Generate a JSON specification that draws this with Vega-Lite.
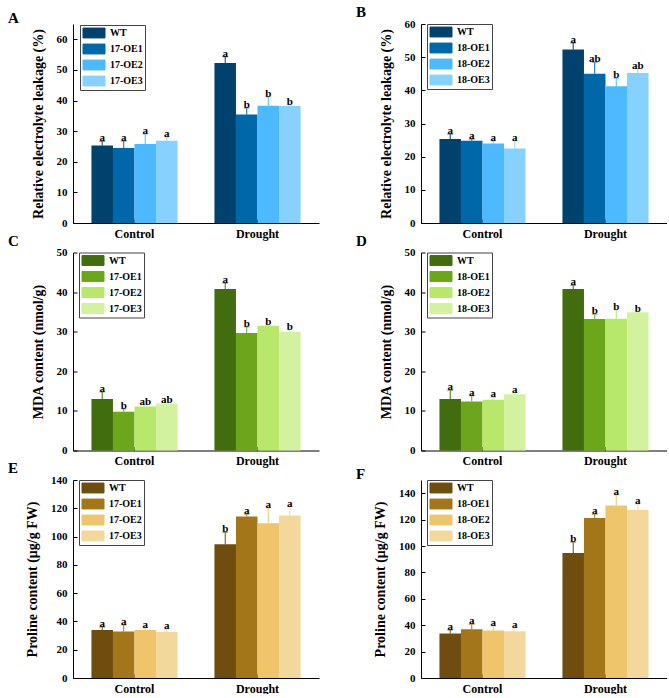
{
  "$schema": "https://vega.github.io/schema/vega-lite/v6.json",
  "padding": {"left": 8, "top": 5, "right": 0, "bottom": 0},
  "data": {
    "values": [
      {"panel": "A", "cond": "Control", "geno": "WT", "mean": 25.3, "upper": 26.7, "sig": "a"},
      {"panel": "A", "cond": "Control", "geno": "17-OE1", "mean": 24.5, "upper": 26.8, "sig": "a"},
      {"panel": "A", "cond": "Control", "geno": "17-OE2", "mean": 25.8, "upper": 29.0, "sig": "a"},
      {"panel": "A", "cond": "Control", "geno": "17-OE3", "mean": 26.9, "upper": 28.1, "sig": "a"},
      {"panel": "A", "cond": "Drought", "geno": "WT", "mean": 52.3, "upper": 54.3, "sig": "a"},
      {"panel": "A", "cond": "Drought", "geno": "17-OE1", "mean": 35.4, "upper": 37.6, "sig": "b"},
      {"panel": "A", "cond": "Drought", "geno": "17-OE2", "mean": 38.3, "upper": 41.2, "sig": "b"},
      {"panel": "A", "cond": "Drought", "geno": "17-OE3", "mean": 38.2, "upper": 38.6, "sig": "b"},

      {"panel": "B", "cond": "Control", "geno": "WT", "mean": 25.3, "upper": 26.8, "sig": "a"},
      {"panel": "B", "cond": "Control", "geno": "18-OE1", "mean": 24.8, "upper": 25.3, "sig": "a"},
      {"panel": "B", "cond": "Control", "geno": "18-OE2", "mean": 24.0, "upper": 24.8, "sig": "a"},
      {"panel": "B", "cond": "Control", "geno": "18-OE3", "mean": 22.5, "upper": 24.8, "sig": "a"},
      {"panel": "B", "cond": "Drought", "geno": "WT", "mean": 52.3, "upper": 54.3, "sig": "a"},
      {"panel": "B", "cond": "Drought", "geno": "18-OE1", "mean": 45.0, "upper": 48.5, "sig": "ab"},
      {"panel": "B", "cond": "Drought", "geno": "18-OE2", "mean": 41.2, "upper": 43.6, "sig": "b"},
      {"panel": "B", "cond": "Drought", "geno": "18-OE3", "mean": 45.2, "upper": 46.5, "sig": "ab"},

      {"panel": "C", "cond": "Control", "geno": "WT", "mean": 13.0, "upper": 14.8, "sig": "a"},
      {"panel": "C", "cond": "Control", "geno": "17-OE1", "mean": 9.8, "upper": 10.5, "sig": "b"},
      {"panel": "C", "cond": "Control", "geno": "17-OE2", "mean": 11.1, "upper": 11.5, "sig": "ab"},
      {"panel": "C", "cond": "Control", "geno": "17-OE3", "mean": 11.9, "upper": 12.0, "sig": "ab"},
      {"panel": "C", "cond": "Drought", "geno": "WT", "mean": 40.8, "upper": 42.3, "sig": "a"},
      {"panel": "C", "cond": "Drought", "geno": "17-OE1", "mean": 29.7, "upper": 31.2, "sig": "b"},
      {"panel": "C", "cond": "Drought", "geno": "17-OE2", "mean": 31.5, "upper": 31.6, "sig": "b"},
      {"panel": "C", "cond": "Drought", "geno": "17-OE3", "mean": 30.0, "upper": 30.5, "sig": "b"},

      {"panel": "D", "cond": "Control", "geno": "WT", "mean": 13.0, "upper": 15.2, "sig": "a"},
      {"panel": "D", "cond": "Control", "geno": "18-OE1", "mean": 12.4, "upper": 13.8, "sig": "a"},
      {"panel": "D", "cond": "Control", "geno": "18-OE2", "mean": 12.8, "upper": 13.4, "sig": "a"},
      {"panel": "D", "cond": "Control", "geno": "18-OE3", "mean": 14.2, "upper": 14.5, "sig": "a"},
      {"panel": "D", "cond": "Drought", "geno": "WT", "mean": 40.8, "upper": 41.7, "sig": "a"},
      {"panel": "D", "cond": "Drought", "geno": "18-OE1", "mean": 33.2, "upper": 34.4, "sig": "b"},
      {"panel": "D", "cond": "Drought", "geno": "18-OE2", "mean": 33.3, "upper": 35.5, "sig": "b"},
      {"panel": "D", "cond": "Drought", "geno": "18-OE3", "mean": 34.9, "upper": 35.0, "sig": "b"},

      {"panel": "E", "cond": "Control", "geno": "WT", "mean": 34.0, "upper": 36.1, "sig": "a"},
      {"panel": "E", "cond": "Control", "geno": "17-OE1", "mean": 32.8, "upper": 37.5, "sig": "a"},
      {"panel": "E", "cond": "Control", "geno": "17-OE2", "mean": 34.0, "upper": 35.4, "sig": "a"},
      {"panel": "E", "cond": "Control", "geno": "17-OE3", "mean": 32.5, "upper": 34.4, "sig": "a"},
      {"panel": "E", "cond": "Drought", "geno": "WT", "mean": 94.6, "upper": 103.1, "sig": "b"},
      {"panel": "E", "cond": "Drought", "geno": "17-OE1", "mean": 114.2, "upper": 115.8, "sig": "a"},
      {"panel": "E", "cond": "Drought", "geno": "17-OE2", "mean": 109.4, "upper": 120.3, "sig": "a"},
      {"panel": "E", "cond": "Drought", "geno": "17-OE3", "mean": 114.9, "upper": 121.0, "sig": "a"},

      {"panel": "F", "cond": "Control", "geno": "WT", "mean": 33.8, "upper": 36.4, "sig": "a"},
      {"panel": "F", "cond": "Control", "geno": "18-OE1", "mean": 36.9, "upper": 40.7, "sig": "a"},
      {"panel": "F", "cond": "Control", "geno": "18-OE2", "mean": 35.9, "upper": 39.4, "sig": "a"},
      {"panel": "F", "cond": "Control", "geno": "18-OE3", "mean": 35.4, "upper": 37.9, "sig": "a"},
      {"panel": "F", "cond": "Drought", "geno": "WT", "mean": 94.7, "upper": 103.0, "sig": "b"},
      {"panel": "F", "cond": "Drought", "geno": "18-OE1", "mean": 121.2, "upper": 124.0, "sig": "a"},
      {"panel": "F", "cond": "Drought", "geno": "18-OE2", "mean": 130.6, "upper": 138.6, "sig": "a"},
      {"panel": "F", "cond": "Drought", "geno": "18-OE3", "mean": 127.3, "upper": 131.8, "sig": "a"}
    ]
  },
  "config": {
    "font": "Liberation Serif",
    "view": {"stroke": null},
    "axis": {
      "labelFont": "Liberation Serif", "labelFontWeight": "bold", "labelFontSize": 11, "labelColor": "black",
      "titleFont": "Liberation Serif", "titleFontWeight": "bold", "titleFontSize": 14, "titleColor": "black",
      "domainColor": "black", "tickColor": "black", "grid": false, "ticks": true, "tickSize": -4, "labelOverlap": false
    },
    "axisX": {"labelFontSize": 12, "labelAngle": 0, "labelPadding": 9, "domainWidth": 1.2},
    "axisY": {"labelPadding": 10, "titlePadding": 11},
    "legend": {
      "strokeColor": "#444", "fillColor": "white", "padding": 2, "rowPadding": 2,
      "symbolType": "M-2,-0.9H2V0.9H-2Z", "symbolSize": 121, "symbolStrokeWidth": 0, "symbolOpacity": 1, "symbolOffset": 6,
      "labelFont": "Liberation Serif", "labelFontWeight": "bold", "labelFontSize": 10, "labelColor": "black", "labelOffset": 10
    },
    "title": {"anchor": "start", "frame": "group", "dx": -65, "fontSize": 15, "font": "Liberation Serif", "fontWeight": "bold", "offset": -2, "color": "black"},
    "text": {"font": "Liberation Serif", "fontWeight": "bold", "fontSize": 11},
    "rule": {"strokeWidth": 1},
    "tick": {"thickness": 1}
  },
  "columns": 2,
  "spacing": {"row": 29.5, "column": 102},
  "bounds": "flush",
  "resolve": {
    "scale": {"x": "independent", "y": "independent", "color": "independent", "xOffset": "independent"},
    "axis": {"x": "independent", "y": "independent"},
    "legend": {"color": "independent"}
  },
  "concat": [
    {
      "title": {"text": "A"},
      "width": 246, "height": 199,
      "transform": [{"filter": "datum.panel == 'A'"}],
      "encoding": {
        "x": {"field": "cond", "type": "nominal", "sort": ["Control", "Drought"], "scale": {"paddingInner": 0.3, "paddingOuter": 0.15}, "axis": {"title": null}},
        "xOffset": {"field": "geno", "type": "nominal", "scale": {"domain": ["WT", "17-OE1", "17-OE2", "17-OE3"], "paddingInner": 0, "paddingOuter": 0}},
        "color": {"field": "geno", "type": "nominal", "scale": {"domain": ["WT", "17-OE1", "17-OE2", "17-OE3"], "range": ["#00426E", "#0067A9", "#4DB9FF", "#87D1FF"]}, "legend": {"title": null, "orient": "none", "legendX": 7, "legendY": 1}}
      },
      "layer": [
        {"mark": "bar", "encoding": {"y": {"field": "mean", "type": "quantitative", "title": "Relative electrolyte leakage (%)", "scale": {"domain": [0, 65]}, "axis": {"values": [0, 10, 20, 30, 40, 50, 60]}}}},
        {"mark": "rule", "encoding": {"y": {"field": "mean", "type": "quantitative", "title": "Relative electrolyte leakage (%)", "scale": {"domain": [0, 65]}, "axis": {"values": [0, 10, 20, 30, 40, 50, 60]}}, "y2": {"field": "upper"}}},
        {"mark": {"type": "tick", "orient": "horizontal", "size": 6}, "encoding": {"y": {"field": "upper", "type": "quantitative", "title": "Relative electrolyte leakage (%)", "scale": {"domain": [0, 65]}, "axis": {"values": [0, 10, 20, 30, 40, 50, 60]}}}},
        {"mark": {"type": "text", "dy": -3}, "encoding": {"y": {"field": "upper", "type": "quantitative", "title": "Relative electrolyte leakage (%)", "scale": {"domain": [0, 65]}, "axis": {"values": [0, 10, 20, 30, 40, 50, 60]}}, "text": {"field": "sig"}, "color": {"value": "black"}}}
      ]
    },
    {
      "title": {"text": "B"},
      "width": 246, "height": 199,
      "transform": [{"filter": "datum.panel == 'B'"}],
      "encoding": {
        "x": {"field": "cond", "type": "nominal", "sort": ["Control", "Drought"], "scale": {"paddingInner": 0.3, "paddingOuter": 0.15}, "axis": {"title": null}},
        "xOffset": {"field": "geno", "type": "nominal", "scale": {"domain": ["WT", "18-OE1", "18-OE2", "18-OE3"], "paddingInner": 0, "paddingOuter": 0}},
        "color": {"field": "geno", "type": "nominal", "scale": {"domain": ["WT", "18-OE1", "18-OE2", "18-OE3"], "range": ["#00426E", "#0067A9", "#4DB9FF", "#87D1FF"]}, "legend": {"title": null, "orient": "none", "legendX": 6, "legendY": 0}}
      },
      "layer": [
        {"mark": "bar", "encoding": {"y": {"field": "mean", "type": "quantitative", "title": "Relative electrolyte leakage (%)", "scale": {"domain": [0, 60]}, "axis": {"values": [0, 10, 20, 30, 40, 50, 60]}}}},
        {"mark": "rule", "encoding": {"y": {"field": "mean", "type": "quantitative", "title": "Relative electrolyte leakage (%)", "scale": {"domain": [0, 60]}, "axis": {"values": [0, 10, 20, 30, 40, 50, 60]}}, "y2": {"field": "upper"}}},
        {"mark": {"type": "tick", "orient": "horizontal", "size": 6}, "encoding": {"y": {"field": "upper", "type": "quantitative", "title": "Relative electrolyte leakage (%)", "scale": {"domain": [0, 60]}, "axis": {"values": [0, 10, 20, 30, 40, 50, 60]}}}},
        {"mark": {"type": "text", "dy": -3}, "encoding": {"y": {"field": "upper", "type": "quantitative", "title": "Relative electrolyte leakage (%)", "scale": {"domain": [0, 60]}, "axis": {"values": [0, 10, 20, 30, 40, 50, 60]}}, "text": {"field": "sig"}, "color": {"value": "black"}}}
      ]
    },
    {
      "title": {"text": "C"},
      "width": 246, "height": 198,
      "transform": [{"filter": "datum.panel == 'C'"}],
      "encoding": {
        "x": {"field": "cond", "type": "nominal", "sort": ["Control", "Drought"], "scale": {"paddingInner": 0.3, "paddingOuter": 0.15}, "axis": {"title": null}},
        "xOffset": {"field": "geno", "type": "nominal", "scale": {"domain": ["WT", "17-OE1", "17-OE2", "17-OE3"], "paddingInner": 0, "paddingOuter": 0}},
        "color": {"field": "geno", "type": "nominal", "scale": {"domain": ["WT", "17-OE1", "17-OE2", "17-OE3"], "range": ["#426D0F", "#6BA61B", "#B7E86C", "#D3F29F"]}, "legend": {"title": null, "orient": "none", "legendX": 6, "legendY": 0}}
      },
      "layer": [
        {"mark": "bar", "encoding": {"y": {"field": "mean", "type": "quantitative", "title": "MDA content (nmol/g)", "scale": {"domain": [0, 50]}, "axis": {"values": [0, 10, 20, 30, 40, 50]}}}},
        {"mark": "rule", "encoding": {"y": {"field": "mean", "type": "quantitative", "title": "MDA content (nmol/g)", "scale": {"domain": [0, 50]}, "axis": {"values": [0, 10, 20, 30, 40, 50]}}, "y2": {"field": "upper"}}},
        {"mark": {"type": "tick", "orient": "horizontal", "size": 6}, "encoding": {"y": {"field": "upper", "type": "quantitative", "title": "MDA content (nmol/g)", "scale": {"domain": [0, 50]}, "axis": {"values": [0, 10, 20, 30, 40, 50]}}}},
        {"mark": {"type": "text", "dy": -3}, "encoding": {"y": {"field": "upper", "type": "quantitative", "title": "MDA content (nmol/g)", "scale": {"domain": [0, 50]}, "axis": {"values": [0, 10, 20, 30, 40, 50]}}, "text": {"field": "sig"}, "color": {"value": "black"}}}
      ]
    },
    {
      "title": {"text": "D"},
      "width": 246, "height": 198,
      "transform": [{"filter": "datum.panel == 'D'"}],
      "encoding": {
        "x": {"field": "cond", "type": "nominal", "sort": ["Control", "Drought"], "scale": {"paddingInner": 0.3, "paddingOuter": 0.15}, "axis": {"title": null}},
        "xOffset": {"field": "geno", "type": "nominal", "scale": {"domain": ["WT", "18-OE1", "18-OE2", "18-OE3"], "paddingInner": 0, "paddingOuter": 0}},
        "color": {"field": "geno", "type": "nominal", "scale": {"domain": ["WT", "18-OE1", "18-OE2", "18-OE3"], "range": ["#426D0F", "#6BA61B", "#B7E86C", "#D3F29F"]}, "legend": {"title": null, "orient": "none", "legendX": 6, "legendY": 0}}
      },
      "layer": [
        {"mark": "bar", "encoding": {"y": {"field": "mean", "type": "quantitative", "title": "MDA content (nmol/g)", "scale": {"domain": [0, 50]}, "axis": {"values": [0, 10, 20, 30, 40, 50]}}}},
        {"mark": "rule", "encoding": {"y": {"field": "mean", "type": "quantitative", "title": "MDA content (nmol/g)", "scale": {"domain": [0, 50]}, "axis": {"values": [0, 10, 20, 30, 40, 50]}}, "y2": {"field": "upper"}}},
        {"mark": {"type": "tick", "orient": "horizontal", "size": 6}, "encoding": {"y": {"field": "upper", "type": "quantitative", "title": "MDA content (nmol/g)", "scale": {"domain": [0, 50]}, "axis": {"values": [0, 10, 20, 30, 40, 50]}}}},
        {"mark": {"type": "text", "dy": -3}, "encoding": {"y": {"field": "upper", "type": "quantitative", "title": "MDA content (nmol/g)", "scale": {"domain": [0, 50]}, "axis": {"values": [0, 10, 20, 30, 40, 50]}}, "text": {"field": "sig"}, "color": {"value": "black"}}}
      ]
    },
    {
      "title": {"text": "E"},
      "width": 246, "height": 198,
      "transform": [{"filter": "datum.panel == 'E'"}],
      "encoding": {
        "x": {"field": "cond", "type": "nominal", "sort": ["Control", "Drought"], "scale": {"paddingInner": 0.3, "paddingOuter": 0.15}, "axis": {"title": null}},
        "xOffset": {"field": "geno", "type": "nominal", "scale": {"domain": ["WT", "17-OE1", "17-OE2", "17-OE3"], "paddingInner": 0, "paddingOuter": 0}},
        "color": {"field": "geno", "type": "nominal", "scale": {"domain": ["WT", "17-OE1", "17-OE2", "17-OE3"], "range": ["#6E4D0E", "#A3761A", "#EEC56A", "#F3D89B"]}, "legend": {"title": null, "orient": "none", "legendX": 6, "legendY": 0}}
      },
      "layer": [
        {"mark": "bar", "encoding": {"y": {"field": "mean", "type": "quantitative", "title": "Proline content (μg/g FW)", "scale": {"domain": [0, 140]}, "axis": {"values": [0, 20, 40, 60, 80, 100, 120, 140]}}}},
        {"mark": "rule", "encoding": {"y": {"field": "mean", "type": "quantitative", "title": "Proline content (μg/g FW)", "scale": {"domain": [0, 140]}, "axis": {"values": [0, 20, 40, 60, 80, 100, 120, 140]}}, "y2": {"field": "upper"}}},
        {"mark": {"type": "tick", "orient": "horizontal", "size": 6}, "encoding": {"y": {"field": "upper", "type": "quantitative", "title": "Proline content (μg/g FW)", "scale": {"domain": [0, 140]}, "axis": {"values": [0, 20, 40, 60, 80, 100, 120, 140]}}}},
        {"mark": {"type": "text", "dy": -3}, "encoding": {"y": {"field": "upper", "type": "quantitative", "title": "Proline content (μg/g FW)", "scale": {"domain": [0, 140]}, "axis": {"values": [0, 20, 40, 60, 80, 100, 120, 140]}}, "text": {"field": "sig"}, "color": {"value": "black"}}}
      ]
    },
    {
      "title": {"text": "F"},
      "width": 246, "height": 198,
      "transform": [{"filter": "datum.panel == 'F'"}],
      "encoding": {
        "x": {"field": "cond", "type": "nominal", "sort": ["Control", "Drought"], "scale": {"paddingInner": 0.3, "paddingOuter": 0.15}, "axis": {"title": null}},
        "xOffset": {"field": "geno", "type": "nominal", "scale": {"domain": ["WT", "18-OE1", "18-OE2", "18-OE3"], "paddingInner": 0, "paddingOuter": 0}},
        "color": {"field": "geno", "type": "nominal", "scale": {"domain": ["WT", "18-OE1", "18-OE2", "18-OE3"], "range": ["#6E4D0E", "#A3761A", "#EEC56A", "#F3D89B"]}, "legend": {"title": null, "orient": "none", "legendX": 6, "legendY": 0}}
      },
      "layer": [
        {"mark": "bar", "encoding": {"y": {"field": "mean", "type": "quantitative", "title": "Proline content (μg/g FW)", "scale": {"domain": [0, 150]}, "axis": {"values": [0, 20, 40, 60, 80, 100, 120, 140]}}}},
        {"mark": "rule", "encoding": {"y": {"field": "mean", "type": "quantitative", "title": "Proline content (μg/g FW)", "scale": {"domain": [0, 150]}, "axis": {"values": [0, 20, 40, 60, 80, 100, 120, 140]}}, "y2": {"field": "upper"}}},
        {"mark": {"type": "tick", "orient": "horizontal", "size": 6}, "encoding": {"y": {"field": "upper", "type": "quantitative", "title": "Proline content (μg/g FW)", "scale": {"domain": [0, 150]}, "axis": {"values": [0, 20, 40, 60, 80, 100, 120, 140]}}}},
        {"mark": {"type": "text", "dy": -3}, "encoding": {"y": {"field": "upper", "type": "quantitative", "title": "Proline content (μg/g FW)", "scale": {"domain": [0, 150]}, "axis": {"values": [0, 20, 40, 60, 80, 100, 120, 140]}}, "text": {"field": "sig"}, "color": {"value": "black"}}}
      ]
    }
  ]
}
